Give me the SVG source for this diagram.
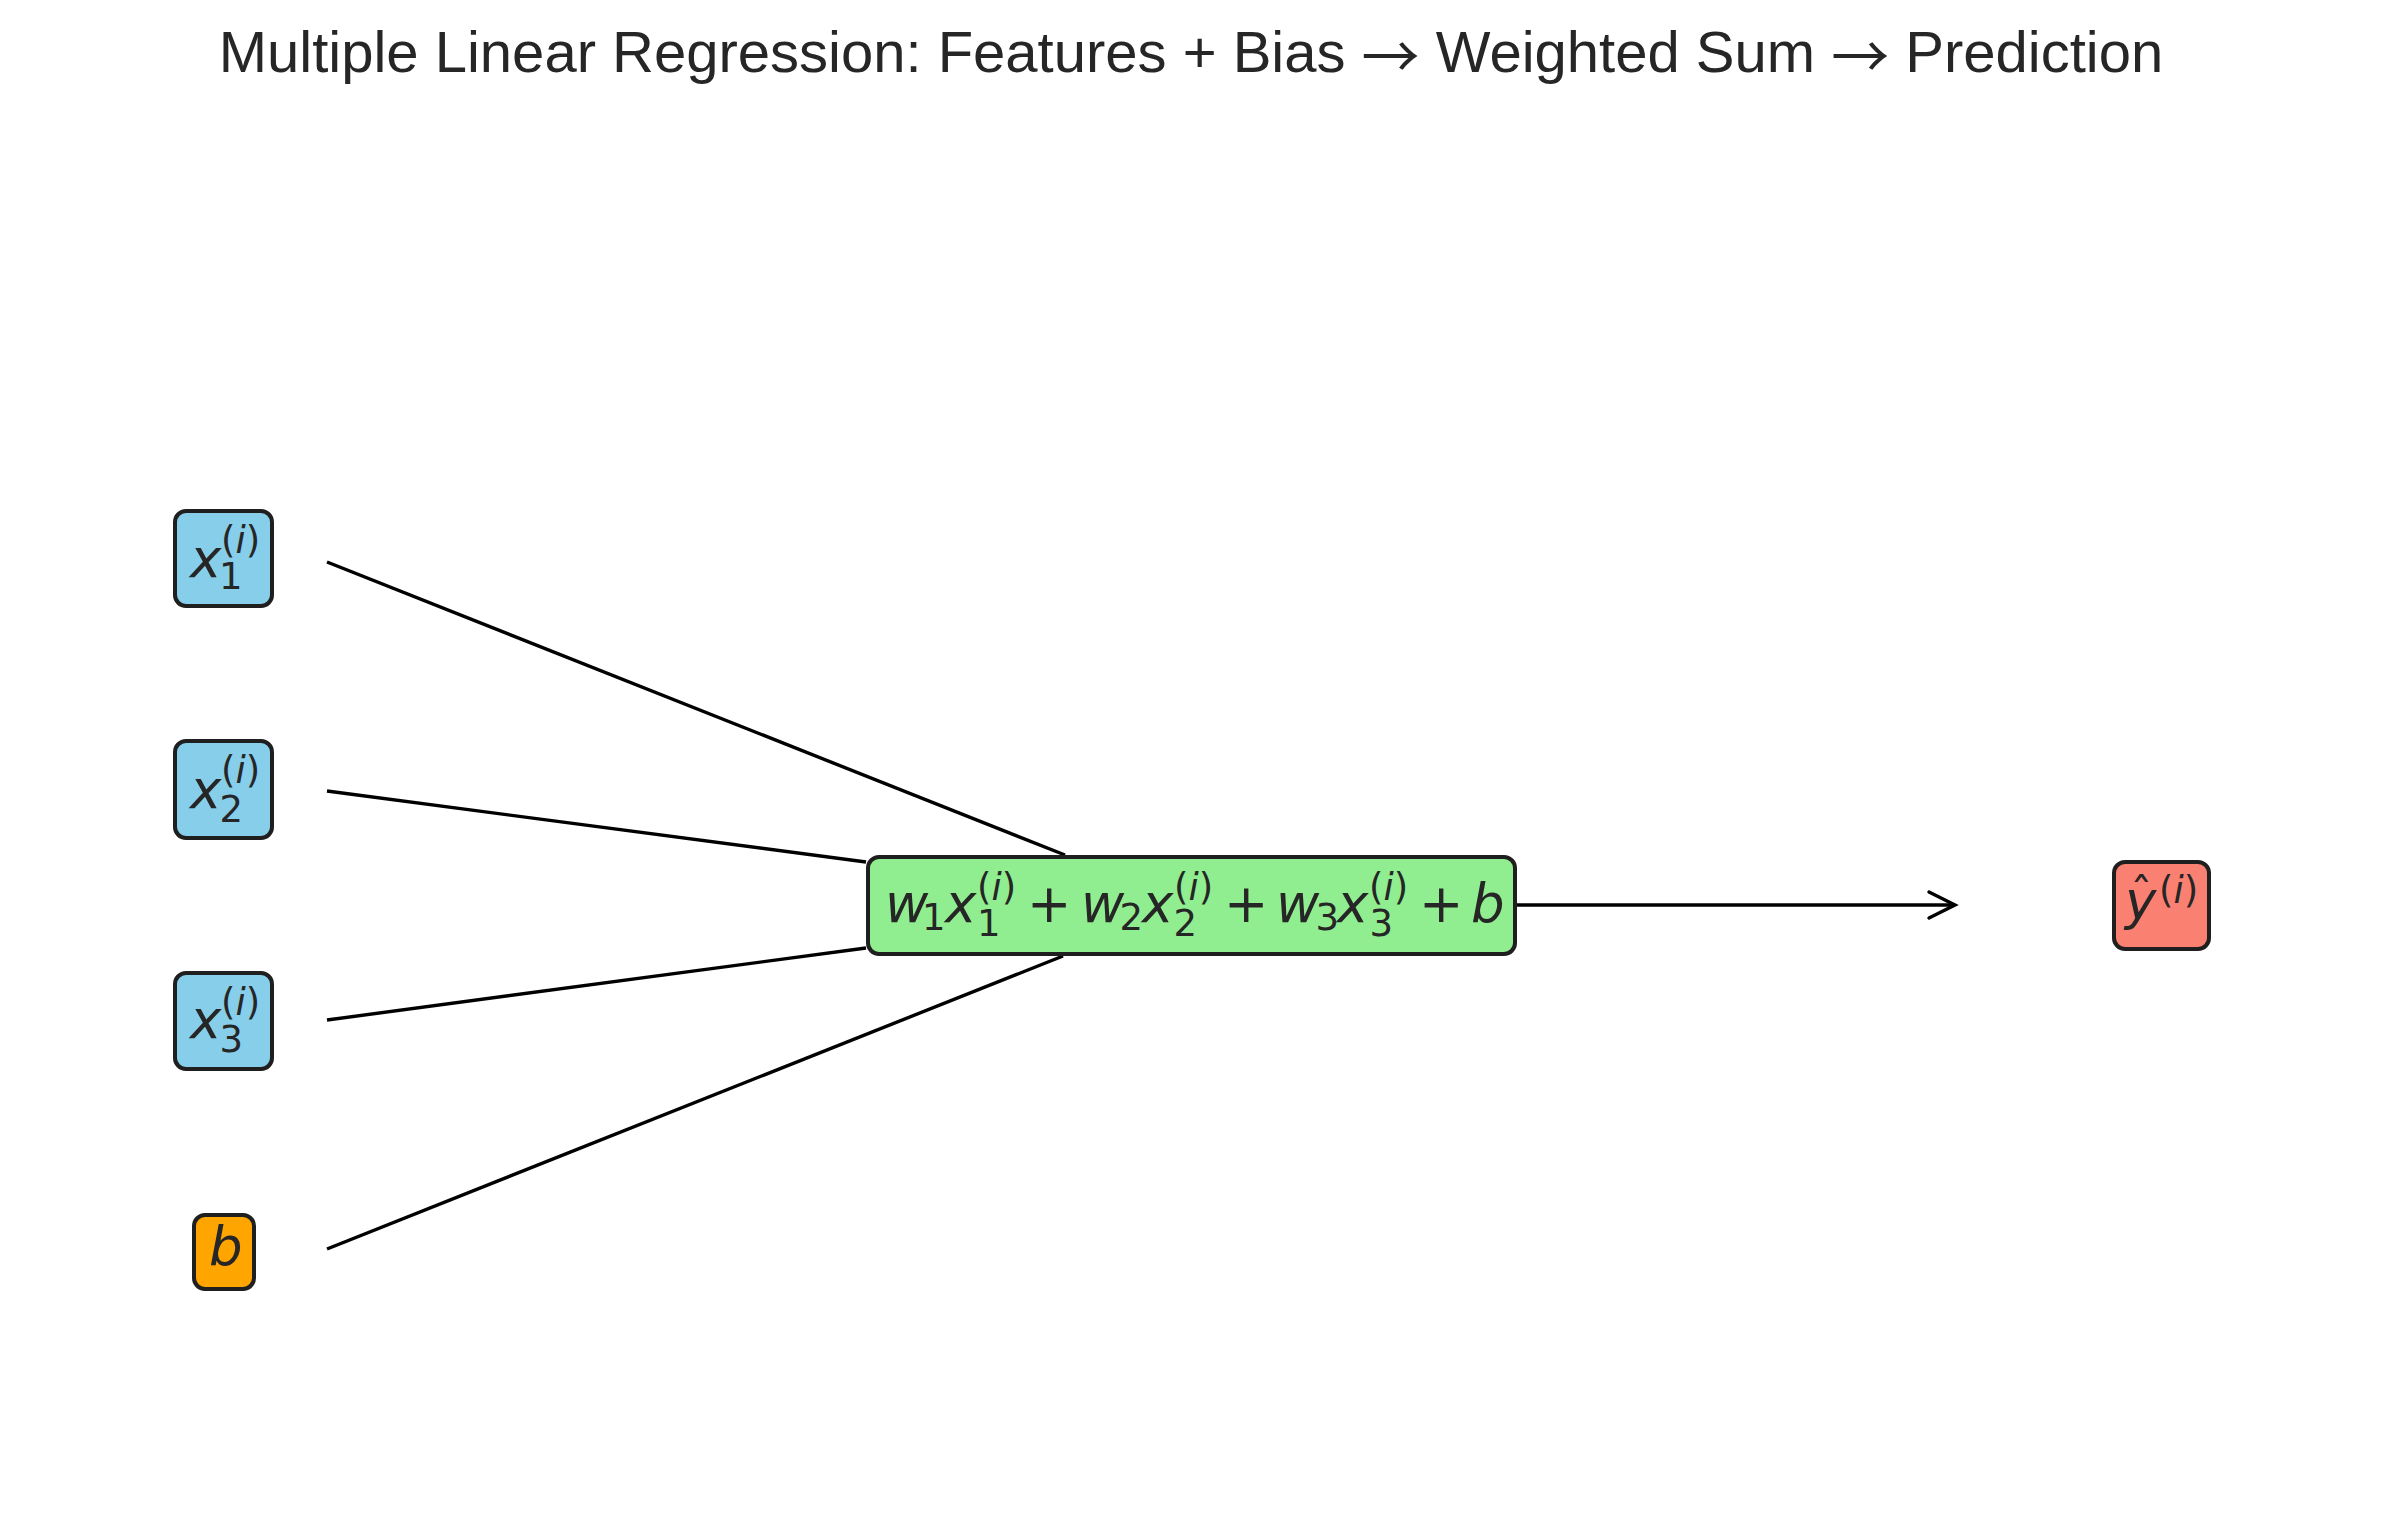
<svg xmlns="http://www.w3.org/2000/svg" width="2385" height="1513" viewBox="0 0 2385 1513">
<style>
.box{stroke:#1f1f1f;stroke-width:4}
.m{font-family:"DejaVu Sans",sans-serif;font-size:53px;fill:#262626}
.it{font-style:italic}
.s{font-size:37px}
.title{font-family:"Liberation Sans",Arial,sans-serif;font-size:58px;fill:#262626}
.arr{font-family:"Noto Sans CJK SC",sans-serif;font-size:58px}
.edge{stroke:#000;stroke-width:3.4;fill:none}
</style>
<rect width="2385" height="1513" fill="#ffffff"/>
<text class="title" x="1191" y="72" text-anchor="middle">Multiple Linear Regression: Features + Bias <tspan class="arr" dy="6">→</tspan><tspan dy="-6"> Weighted Sum </tspan><tspan class="arr" dy="6">→</tspan><tspan dy="-6"> Prediction</tspan></text>
<g id="connectors">
<line class="edge" x1="327" y1="562" x2="1065" y2="855"/>
<line class="edge" x1="327" y1="791" x2="866" y2="862"/>
<line class="edge" x1="327" y1="1020" x2="866" y2="948"/>
<line class="edge" x1="327" y1="1249" x2="1063" y2="956"/>
<line class="edge" x1="1517" y1="905" x2="1953" y2="905"/>
<polyline class="edge" points="1929,892 1955,905 1929,918" stroke-linecap="round" stroke-linejoin="miter"/>
</g>
<g id="node-x1">
<rect class="box" x="175" y="511" width="97" height="95" rx="11" fill="#87ceeb"/>
<text class="m"><tspan class="it" x="190" y="577">x</tspan><tspan class="s" x="219" y="589">1</tspan><tspan class="s" x="221" y="553">(<tspan class="it">i</tspan>)</tspan></text>
</g>
<g id="node-x2">
<rect class="box" x="175" y="741" width="97" height="97" rx="11" fill="#87ceeb"/>
<text class="m"><tspan class="it" x="190" y="808">x</tspan><tspan class="s" x="219.5" y="822">2</tspan><tspan class="s" x="221" y="783">(<tspan class="it">i</tspan>)</tspan></text>
</g>
<g id="node-x3">
<rect class="box" x="175" y="973" width="97" height="96" rx="11" fill="#87ceeb"/>
<text class="m"><tspan class="it" x="190" y="1038">x</tspan><tspan class="s" x="219.5" y="1052">3</tspan><tspan class="s" x="221" y="1015">(<tspan class="it">i</tspan>)</tspan></text>
</g>
<g id="node-b">
<rect class="box" x="194" y="1215" width="60" height="74" rx="11" fill="#ffa500"/>
<text class="m it" x="209" y="1265">b</text>
</g>
<g id="node-sum">
<rect class="box" x="868" y="857" width="647" height="97" rx="11" fill="#90ee90"/>
<text class="m">
<tspan class="it" x="885" y="922">w</tspan><tspan class="s" x="922" y="930">1</tspan>
<tspan class="it" x="945" y="922">x</tspan><tspan class="s" x="977" y="936">1</tspan><tspan class="s" x="977" y="900">(<tspan class="it">i</tspan>)</tspan>
<tspan x="1027" y="922">+</tspan>
<tspan class="it" x="1081" y="922">w</tspan><tspan class="s" x="1119.5" y="930">2</tspan>
<tspan class="it" x="1142" y="922">x</tspan><tspan class="s" x="1173.5" y="936">2</tspan><tspan class="s" x="1174" y="900">(<tspan class="it">i</tspan>)</tspan>
<tspan x="1224" y="922">+</tspan>
<tspan class="it" x="1276" y="922">w</tspan><tspan class="s" x="1315.5" y="930">3</tspan>
<tspan class="it" x="1337" y="922">x</tspan><tspan class="s" x="1369.5" y="936">3</tspan><tspan class="s" x="1369" y="900">(<tspan class="it">i</tspan>)</tspan>
<tspan x="1419" y="922">+</tspan>
<tspan class="it" x="1471" y="922">b</tspan>
</text>
</g>
<g id="node-yhat">
<rect class="box" x="2114" y="862" width="95" height="87" rx="11" fill="#fa8072"/>
<text class="m"><tspan class="it" x="2125" y="919">y</tspan><tspan x="2130" y="910" style="font-size:45px">ˆ</tspan><tspan class="s" x="2159" y="903">(<tspan class="it">i</tspan>)</tspan></text>
</g>
</svg>
